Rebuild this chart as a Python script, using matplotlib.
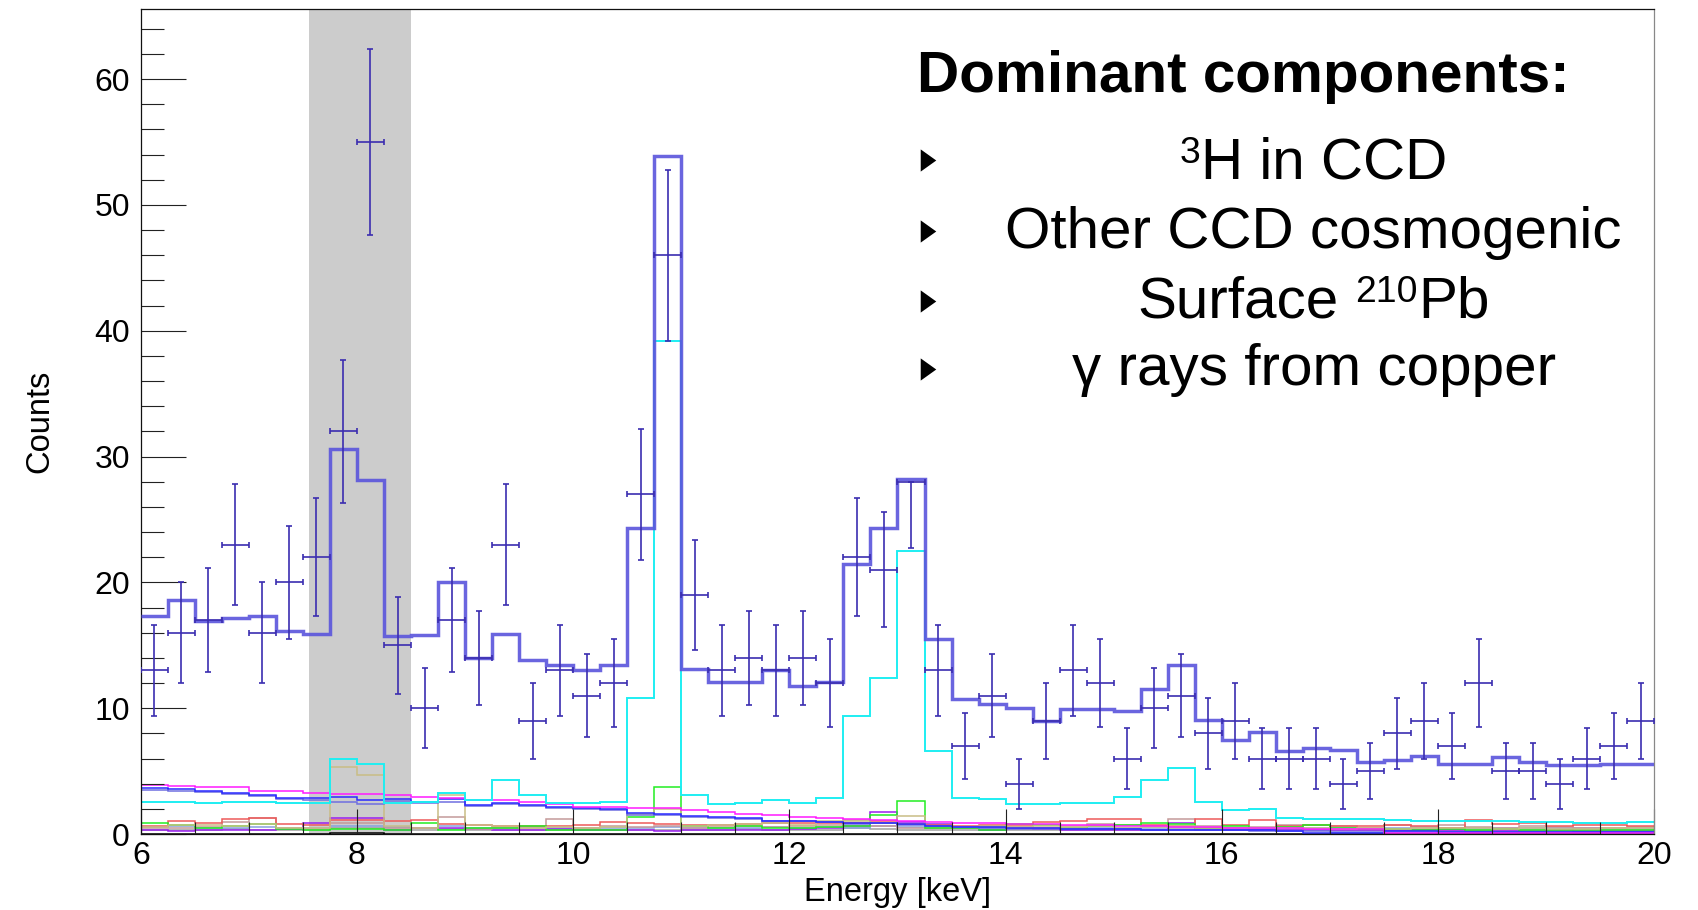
import numpy as np
import matplotlib
matplotlib.use("Agg")
import matplotlib.pyplot as plt
from matplotlib.lines import Line2D
from matplotlib.path import Path
from matplotlib.ticker import MultipleLocator

plt.rcParams['font.family'] = ['Liberation Sans', 'DejaVu Sans']

# ---- binning -------------------------------------------------------------
E_MIN, E_MAX, BIN_WIDTH = 6.0, 20.0, 0.25
edges = np.arange(E_MIN, E_MAX + BIN_WIDTH / 2, BIN_WIDTH)
centers = 0.5 * (edges[:-1] + edges[1:])

# ---- measured spectrum (counts per 0.25 keV bin) ---------------------------
data_counts = [13, 16, 17, 23, 16, 20, 22, 32, 55, 15, 10, 17, 14, 23, 9, 13, 11, 12,
               27, 46, 19, 13, 14, 13, 14, 12, 22, 21, 28, 13, 7, 11, 4, 9, 13, 12,
               6, 10, 11, 8, 9, 6, 6, 6, 4, 5, 8, 9, 7, 12, 5, 5, 4, 6, 7, 9]
# bins whose upper error bar is not drawn
no_upper_error = [28]

# ---- background model: total --------------------------------------------
model_total = [17.3, 18.6, 16.9, 17.2, 17.3, 16.1, 15.9, 30.6, 28.1, 15.7, 15.8, 20.0, 14.0, 15.9, 13.8, 13.4, 13.0, 13.4,
               24.3, 53.9, 13.1, 12.1, 12.1, 13.0, 11.8, 12.1, 21.5, 24.3, 28.2, 15.5, 10.7, 10.3, 10.0, 9.0, 9.9, 9.9,
               9.8, 11.5, 13.4, 9.1, 7.5, 8.1, 6.6, 6.8, 6.7, 5.7, 5.9, 6.2, 5.6, 5.6, 6.1, 5.7, 5.5, 5.5, 5.6, 5.6]

# ---- background model: individual components ---------------------------
comp_cyan = [2.57, 2.57, 2.49, 2.57, 2.57, 2.49, 2.49, 5.96, 5.54, 2.49, 2.57, 3.29, 2.68, 4.29, 3.10, 2.49, 2.49, 2.57,
             10.8, 39.2, 3.07, 2.40, 2.45, 2.70, 2.49, 2.89, 9.4, 12.4, 22.5, 6.6, 2.89, 2.80, 2.40, 2.38, 2.44, 2.49,
             2.97, 4.32, 5.22, 2.57, 1.88, 1.99, 1.30, 1.17, 1.17, 1.17, 1.11, 1.06, 1.03, 1.00, 1.00, 0.98, 0.93, 0.87, 0.85, 0.95]
comp_magenta = [3.90, 3.82, 3.70, 3.70, 3.44, 3.44, 3.29, 3.18, 3.18, 3.07, 2.97, 2.89, 2.70, 2.70, 2.57, 2.36, 2.17, 2.12,
                2.09, 2.04, 1.90, 1.78, 1.60, 1.50, 1.38, 1.30, 1.22, 1.12, 1.02, 0.96, 0.90, 0.85, 0.80, 0.76, 0.72, 0.68,
                0.65, 0.60, 0.58, 0.55, 0.50, 0.48, 0.45, 0.42, 0.40, 0.36, 0.12, 0.10, 0.08, 0.08, 0.07, 0.07, 0.06, 0.06, 0.06, 0.06]
comp_blue = [3.63, 3.55, 3.44, 3.29, 3.10, 2.89, 2.89, 2.97, 2.70, 2.78, 2.57, 2.78, 2.30, 2.49, 2.30, 2.17, 2.04, 2.00,
             1.64, 1.59, 1.43, 1.32, 1.25, 1.06, 1.06, 0.98, 0.85, 0.90, 0.80, 0.64, 0.58, 0.55, 0.45, 0.45, 0.40, 0.40,
             0.38, 0.35, 0.33, 0.30, 0.30, 0.28, 0.25, 0.05, 0.05, 0.05, 0.22, 0.20, 0.18, 0.18, 0.16, 0.15, 0.15, 0.14, 0.14, 0.14]
comp_slate = [3.52, 3.45, 3.30, 3.20, 3.00, 2.80, 2.72, 2.57, 2.38, 2.60, 2.45, 2.52, 2.20, 2.35, 2.20, 2.05, 1.95, 1.90,
              1.55, 1.50, 1.36, 1.25, 1.18, 1.00, 1.00, 0.92, 0.80, 0.84, 0.75, 0.60, 0.55, 0.50, 0.42, 0.42, 0.38, 0.38,
              0.36, 0.33, 0.31, 0.28, 0.28, 0.26, 0.24, 0.21, 0.19, 0.18, 0.17, 0.16, 0.15, 0.15, 0.14, 0.14, 0.13, 0.13, 0.12, 0.12]
comp_tan = [0.55, 0.70, 0.75, 0.60, 0.80, 0.50, 0.45, 5.33, 4.69, 0.60, 0.50, 3.10, 0.70, 0.60, 0.50, 0.55, 0.50, 0.55,
            1.60, 2.00, 0.65, 0.70, 0.80, 0.90, 0.75, 1.00, 1.00, 0.90, 1.40, 0.60, 0.55, 0.60, 0.55, 0.60, 0.55, 0.60,
            0.50, 0.55, 0.60, 0.50, 0.45, 0.50, 0.45, 0.50, 0.40, 0.45, 0.40, 0.45, 0.45, 0.50, 0.40, 0.45, 0.40, 0.40, 0.45, 0.50]
comp_green = [0.85, 0.70, 0.50, 0.60, 0.78, 0.40, 0.35, 0.40, 0.40, 0.30, 0.85, 0.30, 0.50, 0.50, 0.60, 0.35, 0.30, 0.35,
              1.38, 3.70, 0.64, 0.50, 0.60, 0.45, 0.50, 0.55, 0.60, 1.50, 2.60, 0.50, 0.45, 0.35, 0.80, 0.70, 0.50, 0.60,
              0.70, 0.90, 0.80, 0.50, 0.60, 0.50, 0.55, 0.70, 0.50, 0.40, 0.40, 0.35, 0.40, 0.35, 0.40, 0.35, 0.35, 0.35, 0.30, 0.30]
comp_red = [0.60, 1.06, 0.85, 1.17, 1.25, 0.80, 0.70, 1.10, 1.10, 1.06, 1.10, 0.80, 0.70, 0.65, 0.60, 0.65, 0.70, 0.98,
            0.90, 0.80, 0.70, 0.75, 0.80, 0.85, 0.90, 0.85, 0.90, 1.00, 0.80, 0.70, 0.60, 0.70, 0.75, 0.95, 1.05, 1.17,
            1.20, 0.70, 0.60, 1.20, 0.70, 1.10, 0.60, 0.70, 0.60, 0.60, 0.70, 0.60, 0.50, 1.10, 0.80, 0.90, 0.60, 0.70, 0.70, 0.60]
comp_rosy = [0.45, 0.50, 0.55, 0.95, 1.25, 0.50, 0.40, 0.90, 0.85, 0.50, 0.45, 1.38, 0.40, 0.50, 0.45, 1.17, 0.50, 0.60,
             0.55, 0.60, 0.50, 0.55, 0.60, 0.55, 0.60, 0.75, 1.10, 0.60, 0.50, 0.45, 0.50, 0.60, 0.55, 0.50, 0.60, 0.80,
             0.70, 0.60, 1.17, 0.60, 0.50, 0.55, 0.70, 0.70, 0.65, 0.50, 0.70, 0.50, 0.70, 0.55, 0.50, 0.60, 0.55, 0.50, 0.50, 0.55]
comp_purple = [0.30, 0.25, 0.30, 0.30, 0.35, 0.40, 0.90, 1.25, 1.25, 0.35, 0.50, 0.45, 0.40, 0.35, 0.30, 0.40, 0.35, 0.30,
               0.30, 0.20, 0.30, 0.30, 0.35, 0.30, 0.40, 0.50, 0.60, 1.72, 0.98, 0.80, 0.45, 0.35, 0.50, 0.40, 0.35, 0.30,
               0.30, 0.30, 0.90, 0.40, 0.30, 0.35, 0.30, 0.30, 0.30, 0.35, 0.30, 0.30, 0.30, 0.25, 0.30, 0.25, 0.30, 0.25, 0.25, 0.25]
comp_steel = [0.55, 0.60, 0.45, 0.50, 0.52, 0.45, 0.50, 0.62, 0.60, 0.55, 0.45, 0.60, 0.50, 0.45, 0.52, 0.45, 0.50, 0.48,
              0.50, 0.55, 0.45, 0.50, 0.45, 0.52, 0.50, 0.55, 0.50, 0.62, 0.55, 0.45, 0.50, 0.45, 0.52, 0.45, 0.50, 0.45,
              0.50, 0.45, 0.52, 0.45, 0.50, 0.44, 0.50, 0.45, 0.46, 0.50, 0.45, 0.52, 0.45, 0.50, 0.45, 0.50, 0.44, 0.50, 0.45, 0.50]
comp_gray = [0.30, 0.35, 0.30, 0.40, 0.35, 0.30, 0.35, 0.50, 0.45, 0.30, 0.35, 0.40, 0.30, 0.35, 0.30, 0.30, 0.35, 0.30,
             0.35, 0.30, 0.35, 0.30, 0.40, 0.35, 0.30, 0.35, 0.45, 0.40, 0.35, 0.30, 0.35, 0.30, 0.30, 0.35, 0.30, 0.35,
             0.30, 0.35, 0.40, 0.30, 0.35, 0.30, 0.35, 0.30, 0.30, 0.35, 0.30, 0.30, 0.35, 0.30, 0.30, 0.35, 0.30, 0.30, 0.30, 0.30]
comp_black = [0.03, 0.03, 0.03, 0.03, 0.03, 0.03, 0.03, 0.12, 0.12, 0.03, 0.03, 0.03, 0.03, 0.03, 0.03, 0.03, 0.03, 0.03,
              0.03, 0.03, 0.03, 0.03, 0.03, 0.03, 0.03, 0.03, 0.03, 0.03, 0.03, 0.03, 0.03, 0.03, 0.03, 0.03, 0.03, 0.03,
              0.03, 0.03, 0.03, 0.03, 0.03, 0.03, 0.03, 0.03, 0.03, 0.03, 0.03, 0.03, 0.03, 0.03, 0.03, 0.03, 0.03, 0.03, 0.03, 0.03]

# drawing order: faint contributions first, dominant ones last
components = [
    (comp_black, '#000000', 1.1),
    (comp_gray, '#a0a0a0', 1.1),
    (comp_steel, '#86a2de', 1.1),
    (comp_purple, '#9a1ff0', 1.1),
    (comp_rosy, '#c49a9a', 1.1),
    (comp_red, '#ee5a5a', 1.1),
    (comp_green, '#22ee22', 1.1),
    (comp_tan, '#c9bd85', 1.1),
    (comp_slate, '#6f6fe0', 1.1),
    (comp_blue, '#2a2aff', 1.1),
    (comp_magenta, '#ff1aff', 1.1),
    (comp_cyan, '#1eeef2', 1.4),
]

# highlighted energy window
BAND = (7.56, 8.50)

# ---- figure ----------------------------------------------------------------
fig = plt.figure(figsize=(16.98, 9.10), dpi=100)
ax = fig.add_axes([0.0829, 0.0835, 0.8913, 0.9063])

ax.axvspan(*BAND, color='#cccccc', lw=0, zorder=0)

for vals, col, lw in components:
    ax.stairs(vals, edges, baseline=None, color=col, lw=lw, zorder=1)

ax.stairs(model_total, edges, baseline=None, color='#5a54dc', lw=2.5, alpha=0.9, zorder=3)

counts = np.array(data_counts, dtype=float)
err = np.sqrt(counts)
err_hi = err.copy()
err_hi[no_upper_error] = 0.0
ax.errorbar(centers, counts, xerr=BIN_WIDTH / 2, yerr=[err, err_hi], fmt='none',
            ecolor='#3b2db0', elinewidth=1.2, capsize=2.3, capthick=1.2, zorder=4)

ax.set_xlim(E_MIN, E_MAX)
ax.set_ylim(0, 65.55)

ax.xaxis.set_major_locator(MultipleLocator(2))
ax.xaxis.set_minor_locator(MultipleLocator(0.5))
ax.yaxis.set_major_locator(MultipleLocator(10))
ax.yaxis.set_minor_locator(MultipleLocator(2))

ax.tick_params(axis='x', which='major', direction='in', length=18, width=0.8, pad=5,
               labelsize=23, top=False, color='#222222')
ax.tick_params(axis='x', which='minor', direction='in', length=9, width=0.8, top=False, color='#222222')
ax.tick_params(axis='y', which='major', direction='in', length=32.4, width=0.8, pad=7.8,
               labelsize=23, right=False, color='#222222')
ax.tick_params(axis='y', which='minor', direction='in', length=16.5, width=0.8, right=False, color='#222222')

for side in ('left', 'bottom', 'top'):
    ax.spines[side].set_color('#111111')
    ax.spines[side].set_linewidth(0.9)
ax.spines['right'].set_color('#888888')
ax.spines['right'].set_linewidth(0.9)

ax.set_xlabel('Energy [keV]', fontsize=23.5)
ax.xaxis.set_label_coords(0.5, -0.052)
ax.set_ylabel('Counts', fontsize=23.5)
ax.yaxis.set_label_coords(-0.0562, 0.5)

# ---- annotation block -------------------------------------------------------
BOX_FS = 42
SUP_SCALE = 0.64
fig.text(0.5402, 0.8989, 'Dominant components:', fontsize=BOX_FS, fontweight='bold',
         ha='left', va='baseline')

# each line is a sequence of (text, superscript?) pieces
items = [
    [('3', True), ('H in CCD', False)],
    [('Other CCD cosmogenic', False)],
    [('Surface', False), (' ', False), ('210', True), ('Pb', False)],
    [('\u03b3 rays from copper', False)],
]
item_baselines = [0.8036, 0.7275, 0.6513, 0.5764]
bullet_y = [0.8238, 0.7465, 0.6692, 0.5942]
ITEM_CENTER_X = 0.7736

renderer = fig.canvas.get_renderer()
fig_w, fig_h = fig.bbox.width, fig.bbox.height
em_px = BOX_FS * fig.dpi / 72.0


def text_width(s, fs):
    if s.strip() == '':
        a = fig.text(0, 0, 'x' + s + 'x', fontsize=fs)
        b = fig.text(0, 0, 'xx', fontsize=fs)
        w = a.get_window_extent(renderer).width - b.get_window_extent(renderer).width
        a.remove()
        b.remove()
        return w
    t = fig.text(0, 0, s, fontsize=fs)
    w = t.get_window_extent(renderer).width
    t.remove()
    return w


for pieces, yb in zip(items, item_baselines):
    sizes = [BOX_FS * SUP_SCALE if sup else BOX_FS for _, sup in pieces]
    widths = [text_width(s, fs) for (s, _), fs in zip(pieces, sizes)]
    x = ITEM_CENTER_X * fig_w - sum(widths) / 2
    for (s, sup), fs, w in zip(pieces, sizes, widths):
        y = yb + (0.27 * em_px / fig_h if sup else 0.0)
        if s.strip():
            fig.text(x / fig_w, y, s, fontsize=fs, ha='left', va='baseline')
        x += w

bullet = Path([(-0.7, -1.0), (0.7, 0.0), (-0.7, 1.0), (-0.7, -1.0)],
              [Path.MOVETO, Path.LINETO, Path.LINETO, Path.CLOSEPOLY])
for ym in bullet_y:
    fig.add_artist(Line2D([0.5465], [ym], transform=fig.transFigure, marker=bullet,
                          markersize=16, color='black', markeredgewidth=0, linestyle='none'))

fig.savefig('out.png', dpi=100)
